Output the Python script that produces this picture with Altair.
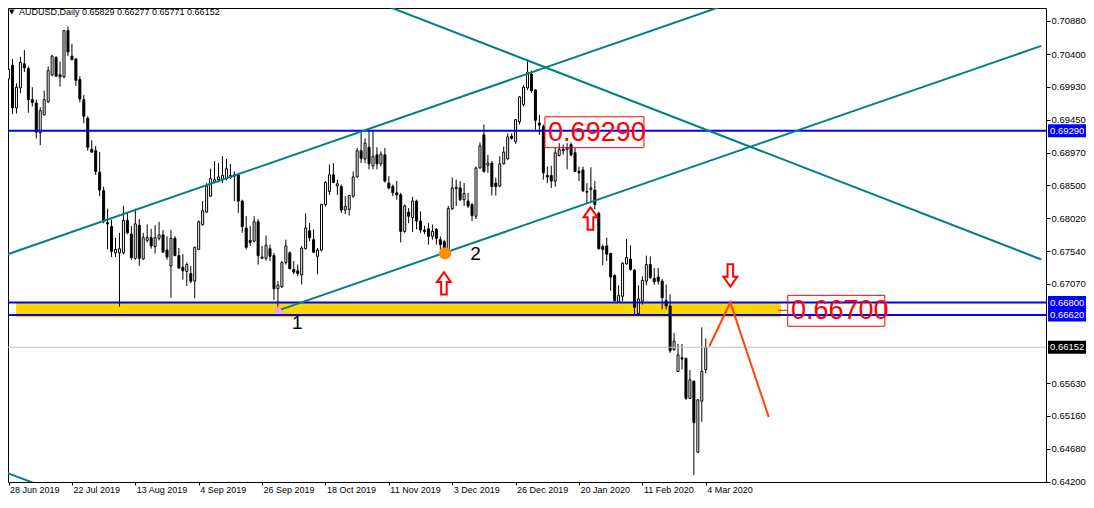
import altair as alt
import pandas as pd

# ---------------- data ----------------
bar_open = [0.7004, 0.7024, 0.6962, 0.6991, 0.7026, 0.7019, 0.6974, 0.6969, 0.6926, 0.6952,
            0.6971, 0.7010, 0.7035, 0.7010, 0.7007, 0.7074, 0.7037, 0.7033, 0.7003, 0.6974,
            0.6947, 0.6902, 0.6900, 0.6869, 0.6842, 0.6796, 0.6790, 0.6752, 0.6752, 0.6752,
            0.6799, 0.6779, 0.6744, 0.6792, 0.6743, 0.6770, 0.6774, 0.6761, 0.6773, 0.6778,
            0.6756, 0.6733, 0.6773, 0.6748, 0.6731, 0.6725, 0.6722, 0.6711, 0.6757, 0.6793,
            0.6811, 0.6834, 0.6855, 0.6858, 0.6858, 0.6860, 0.6861, 0.6863, 0.6865, 0.6827,
            0.6788, 0.6770, 0.6769, 0.6797, 0.6744, 0.6744, 0.6758, 0.6748, 0.6700, 0.6703,
            0.6738, 0.6752, 0.6728, 0.6726, 0.6720, 0.6758, 0.6784, 0.6771, 0.6747, 0.6756,
            0.6822, 0.6841, 0.6865, 0.6849, 0.6848, 0.6814, 0.6815, 0.6834, 0.6862, 0.6900,
            0.6888, 0.6905, 0.6878, 0.6894, 0.6881, 0.6894, 0.6853, 0.6848, 0.6839, 0.6836,
            0.6783, 0.6811, 0.6803, 0.6827, 0.6798, 0.6785, 0.6787, 0.6776, 0.6786, 0.6771,
            0.6768, 0.6753, 0.6816, 0.6845, 0.6846, 0.6829, 0.6827, 0.6822, 0.6805, 0.6875,
            0.6923, 0.6879, 0.6882, 0.6853, 0.6849, 0.6881, 0.6888, 0.6921, 0.6913, 0.6942,
            0.6967, 0.6991, 0.7011, 0.6988, 0.6940, 0.6935, 0.6864, 0.6864, 0.6856, 0.6893,
            0.6902, 0.6902, 0.6909, 0.6897, 0.6870, 0.6872, 0.6841, 0.6844, 0.6843, 0.6809,
            0.6761, 0.6762, 0.6751, 0.6719, 0.6681, 0.6689, 0.6736, 0.6743, 0.6727, 0.6664,
            0.6682, 0.6711, 0.6735, 0.6715, 0.6717, 0.6711, 0.6683, 0.6675, 0.6612, 0.6580,
            0.6600, 0.6599, 0.6541, 0.6566, 0.6463, 0.6537, 0.65829]
bar_high = [0.7021, 0.7033, 0.6998, 0.7036, 0.7046, 0.7022, 0.6992, 0.6974, 0.6963, 0.6987,
            0.7022, 0.7039, 0.7037, 0.7029, 0.7075, 0.7080, 0.7055, 0.7034, 0.7008, 0.6981,
            0.6950, 0.6915, 0.6907, 0.6898, 0.6848, 0.6816, 0.6800, 0.6774, 0.6781, 0.6820,
            0.6810, 0.6791, 0.6816, 0.6801, 0.6781, 0.6793, 0.6787, 0.6792, 0.6797, 0.6785,
            0.6776, 0.6785, 0.6776, 0.6759, 0.6750, 0.6738, 0.6733, 0.6761, 0.6799, 0.6827,
            0.6853, 0.6874, 0.6885, 0.6882, 0.6892, 0.6888, 0.6881, 0.6870, 0.6868, 0.6829,
            0.6805, 0.6791, 0.6805, 0.6801, 0.6762, 0.6777, 0.6764, 0.6752, 0.6711, 0.6740,
            0.6771, 0.6754, 0.6740, 0.6735, 0.6762, 0.6809, 0.6795, 0.6786, 0.6759, 0.6823,
            0.6856, 0.6880, 0.6882, 0.6858, 0.6851, 0.6834, 0.6836, 0.6870, 0.6904, 0.6929,
            0.6918, 0.6928, 0.6928, 0.6905, 0.6899, 0.6904, 0.6863, 0.6851, 0.6856, 0.6839,
            0.6822, 0.6817, 0.6833, 0.6829, 0.6812, 0.6791, 0.6795, 0.6793, 0.6788, 0.6776,
            0.6771, 0.6820, 0.6861, 0.6858, 0.6856, 0.6853, 0.6839, 0.6824, 0.6877, 0.6912,
            0.6938, 0.6894, 0.6885, 0.6861, 0.6892, 0.6906, 0.6925, 0.6925, 0.6946, 0.6979,
            0.6995, 0.7030, 0.7016, 0.6989, 0.6952, 0.6938, 0.6877, 0.6878, 0.6904, 0.6911,
            0.6909, 0.6911, 0.6912, 0.6904, 0.6877, 0.6877, 0.6853, 0.6876, 0.6856, 0.6812,
            0.6764, 0.6774, 0.6752, 0.6721, 0.6705, 0.6738, 0.6772, 0.6763, 0.6728, 0.6705,
            0.6718, 0.6748, 0.6747, 0.6730, 0.6730, 0.6714, 0.6706, 0.6692, 0.6636, 0.6620,
            0.6620, 0.6600, 0.6582, 0.6567, 0.6540, 0.6644, 0.66277]
bar_low = [0.6996, 0.6953, 0.6954, 0.6983, 0.7014, 0.6955, 0.6964, 0.6918, 0.6908, 0.6951,
           0.6969, 0.7008, 0.7007, 0.6993, 0.7005, 0.7037, 0.7031, 0.6994, 0.6970, 0.6940,
           0.6900, 0.6897, 0.6865, 0.6834, 0.6795, 0.6757, 0.6746, 0.6746, 0.6674, 0.6750,
           0.6779, 0.6742, 0.6742, 0.6733, 0.6742, 0.6767, 0.6758, 0.6751, 0.6770, 0.6752,
           0.6742, 0.6687, 0.6747, 0.6729, 0.6713, 0.6704, 0.6708, 0.6686, 0.6756, 0.6791,
           0.6810, 0.6833, 0.6853, 0.6854, 0.6853, 0.6857, 0.6859, 0.6827, 0.6810, 0.6781,
           0.6757, 0.6762, 0.6767, 0.6735, 0.6743, 0.6741, 0.6740, 0.6684, 0.6671, 0.6701,
           0.6735, 0.6728, 0.6721, 0.6718, 0.6706, 0.6757, 0.6769, 0.6752, 0.6721, 0.6754,
           0.6819, 0.6836, 0.6853, 0.6836, 0.6810, 0.6808, 0.6806, 0.6832, 0.6861, 0.6882,
           0.6882, 0.6873, 0.6873, 0.6873, 0.6877, 0.6854, 0.6844, 0.6834, 0.6829, 0.6767,
           0.6781, 0.6795, 0.6782, 0.6786, 0.6781, 0.6779, 0.6764, 0.6771, 0.6764, 0.6757,
           0.6750, 0.6752, 0.6814, 0.6820, 0.6827, 0.6820, 0.6817, 0.6798, 0.6801, 0.6874,
           0.6868, 0.6868, 0.6835, 0.6835, 0.6847, 0.6880, 0.6887, 0.6916, 0.6910, 0.6938,
           0.6964, 0.6988, 0.6984, 0.6928, 0.6923, 0.6858, 0.6853, 0.6846, 0.6848, 0.6892,
           0.6894, 0.6873, 0.6892, 0.6869, 0.6856, 0.6840, 0.6824, 0.6827, 0.6815, 0.6757,
           0.6734, 0.6740, 0.6697, 0.6681, 0.6680, 0.6682, 0.6735, 0.6726, 0.6661, 0.6662,
           0.6677, 0.6705, 0.6714, 0.6706, 0.6706, 0.6670, 0.6670, 0.6607, 0.6610, 0.6579,
           0.6583, 0.6539, 0.6540, 0.6430, 0.6462, 0.6507, 0.65771]
bar_close = [0.7018, 0.6962, 0.6992, 0.7028, 0.7020, 0.6974, 0.6970, 0.6927, 0.6958, 0.6974,
             0.7016, 0.7037, 0.7008, 0.7007, 0.7074, 0.7043, 0.7032, 0.7002, 0.6975, 0.6950,
             0.6905, 0.6898, 0.6870, 0.6843, 0.6798, 0.6794, 0.6754, 0.6757, 0.6758, 0.6799,
             0.6781, 0.6745, 0.6794, 0.6744, 0.6774, 0.6774, 0.6762, 0.6774, 0.6778, 0.6753,
             0.6746, 0.6773, 0.6748, 0.6730, 0.6726, 0.6735, 0.6711, 0.6760, 0.6797, 0.6813,
             0.6849, 0.6860, 0.6858, 0.6862, 0.6864, 0.6874, 0.6864, 0.6865, 0.6827, 0.6790,
             0.6760, 0.6767, 0.6797, 0.6748, 0.6746, 0.6763, 0.6747, 0.6700, 0.6705, 0.6738,
             0.6762, 0.6729, 0.6724, 0.6722, 0.6759, 0.6788, 0.6774, 0.6753, 0.6756, 0.6822,
             0.6854, 0.6865, 0.6854, 0.6852, 0.6814, 0.6819, 0.6835, 0.6862, 0.6900, 0.6889,
             0.6911, 0.6881, 0.6892, 0.6881, 0.6895, 0.6856, 0.6846, 0.6839, 0.6836, 0.6783,
             0.6820, 0.6805, 0.6827, 0.6798, 0.6785, 0.6783, 0.6776, 0.6783, 0.6773, 0.6764,
             0.6753, 0.6816, 0.6846, 0.6847, 0.6829, 0.6838, 0.6820, 0.6806, 0.6875, 0.6907,
             0.6870, 0.6882, 0.6848, 0.6848, 0.6881, 0.6898, 0.6920, 0.6918, 0.6945, 0.6978,
             0.6992, 0.7014, 0.6987, 0.6944, 0.6937, 0.6868, 0.6862, 0.6856, 0.6897, 0.6902,
             0.6900, 0.6904, 0.6894, 0.6870, 0.6868, 0.6842, 0.6840, 0.6846, 0.6822, 0.6758,
             0.6757, 0.6750, 0.6717, 0.6683, 0.6690, 0.6737, 0.6745, 0.6728, 0.6673, 0.6685,
             0.6712, 0.6735, 0.6716, 0.6710, 0.6711, 0.6687, 0.6675, 0.6610, 0.6624, 0.6604,
             0.6598, 0.6541, 0.6568, 0.6506, 0.6539, 0.6580, 0.66152]

date_labels = ["28 Jun 2019", "22 Jul 2019", "13 Aug 2019", "4 Sep 2019", "26 Sep 2019",
               "18 Oct 2019", "11 Nov 2019", "3 Dec 2019", "26 Dec 2019", "20 Jan 2020",
               "11 Feb 2020", "4 Mar 2020"]
date_bars = [0, 16, 32, 48, 64, 80, 96, 112, 128, 144, 160, 176]
price_ticks = [0.70880, 0.70400, 0.69930, 0.69450, 0.68970, 0.68500, 0.68020, 0.67540,
               0.67070, 0.65630, 0.65160, 0.64680, 0.64200]

blue_levels = [0.69290, 0.66800, 0.66620]
last_price = [0.66152]

zone_bars = [1.9, 195.0]
zone_prices = [0.66795, 0.66585]

trend_names = ["up1", "up1", "up2", "up2", "dn1", "dn1", "dn2", "dn2"]
trend_bars = [-0.33, 182.4, 67.4, 260.7, 92.9, 260.7, -0.33, 14.0]
trend_prices = [0.67497, 0.71140, 0.66672, 0.70519, 0.71155, 0.67424, 0.64330, 0.64020]

forecast_bars = [176.9, 182.2, 191.9]
forecast_prices = [0.66166, 0.66800, 0.65140]

up_arrow_bars = [109.9, 146.9]
up_arrow_prices = [0.67077, 0.68017]
down_arrow_bars = [182.2]
down_arrow_prices = [0.67193]

dot_bar = [110.2]
dot_price = [0.67511]
pink_bar = [68.2]
pink_price = [0.66700]

point_labels = ["1", "2"]
point_label_bars = [72.9, 117.9]
point_label_prices = [0.66499, 0.67497]

box_texts = ["0.69290", "0.66700"]
box_text_bars = [136.2, 197.5]
box_text_prices = [0.69261, 0.66672]
box_bar_lo = [135.4, 196.7]
box_bar_hi = [160.4, 221.2]
box_price_hi = [0.69492, 0.66904]
box_price_lo = [0.69044, 0.66456]

header_text = "AUDUSD,Daily  0.65829 0.66277 0.65771 0.66152"

# ---------------- tables ----------------
candles = pd.DataFrame({"bar": list(range(len(bar_open))), "open": bar_open,
                        "high": bar_high, "low": bar_low, "close": bar_close})
candles["dir"] = ["up" if c >= o else "down" for o, c in zip(bar_open, bar_close)]

FONT = "Liberation Sans"
xs = alt.Scale(domain=[1.125, 260.625], nice=False, zero=False)
ys = alt.Scale(domain=[0.64199, 0.71068], nice=False, zero=False)
label_expr = "[" + ",".join("'%s'" % d for d in date_labels) + "][round(datum.value / 16)]"
xaxis = alt.Axis(values=date_bars, labelExpr=label_expr, title=None, grid=False, domain=False,
                 tickSize=3, tickColor="black", labelAlign="left", labelBaseline="top",
                 labelPadding=0, labelOffset=1, labelFont=FONT, labelFontSize=9,
                 labelColor="black", labelOverlap=False, labelFlush=False, labelBound=False)
yaxis = alt.Axis(orient="right", values=price_ticks, format=".5f", title=None, grid=False,
                 domain=False, tickSize=4, tickColor="black", labelPadding=1, labelFont=FONT,
                 labelFontSize=9.5, labelColor="black", labelOverlap=False, labelFlush=False,
                 labelBaseline="middle")


def X(f):
    return alt.X(f, type="quantitative", scale=xs, axis=xaxis)


def Y(f):
    return alt.Y(f, type="quantitative", scale=ys, axis=yaxis)


zone = alt.Chart(pd.DataFrame({"b1": [zone_bars[0]], "b2": [zone_bars[1]],
                               "p1": [zone_prices[0]], "p2": [zone_prices[1]]})).mark_rect(
    color="#FFD700", clip=True).encode(x=X("b1"), x2="b2", y=Y("p1"), y2="p2")

wicks = alt.Chart(candles).mark_rule(color="black", strokeWidth=1).encode(
    x=X("bar"), y=Y("low"), y2="high")
bodies = alt.Chart(candles).mark_bar(width=2, stroke="black", strokeWidth=1).encode(
    x=X("bar"), y=Y("open"), y2="close",
    fill=alt.Fill("dir:N", scale=alt.Scale(domain=["up", "down"], range=["white", "black"]),
                  legend=None))

trend_df = pd.DataFrame({"name": trend_names, "bar": trend_bars, "price": trend_prices})
trends = alt.Chart(trend_df).mark_line(color="#008080", strokeWidth=2, clip=True).encode(
    x=X("bar"), y=Y("price"), detail="name:N")

levels = alt.Chart(pd.DataFrame({"price": blue_levels})).mark_rule(
    color="#0000FF", strokeWidth=2).encode(y=Y("price"))
last_line = alt.Chart(pd.DataFrame({"price": last_price})).mark_rule(
    color="#C0C0C0", strokeWidth=1).encode(y=Y("price"))

forecast = alt.Chart(pd.DataFrame({"bar": forecast_bars, "price": forecast_prices,
                                   "k": list(range(3))})).mark_line(
    color="#FF4500", strokeWidth=2).encode(x=X("bar"), y=Y("price"), order="k:Q")

UP = "M0,-1L0.62,-0.12L0.25,-0.12L0.25,1L-0.25,1L-0.25,-0.12L-0.62,-0.12Z"
DOWN = "M0,1L0.62,0.12L0.25,0.12L0.25,-1L-0.25,-1L-0.25,0.12L-0.62,0.12Z"
up_arrows = alt.Chart(pd.DataFrame({"bar": up_arrow_bars, "price": up_arrow_prices})).mark_point(
    shape=UP, size=500, filled=True, fill="white", stroke="#FF0000", strokeWidth=2,
    opacity=1).encode(x=X("bar"), y=Y("price"))
down_arrows = alt.Chart(pd.DataFrame({"bar": down_arrow_bars, "price": down_arrow_prices})).mark_point(
    shape=DOWN, size=500, filled=True, fill="white", stroke="#FF0000", strokeWidth=2,
    opacity=1).encode(x=X("bar"), y=Y("price"))

dot = alt.Chart(pd.DataFrame({"bar": dot_bar, "price": dot_price})).mark_circle(
    color="#FF8C00", size=150, opacity=1).encode(x=X("bar"), y=Y("price"))
pink = alt.Chart(pd.DataFrame({"bar": pink_bar, "price": pink_price})).mark_point(
    shape="triangle-up", size=90, filled=True, color="#FF99FF", opacity=1).encode(
    x=X("bar"), y=Y("price"))

num_labels = alt.Chart(pd.DataFrame({"t": point_labels, "bar": point_label_bars,
                                     "price": point_label_prices})).mark_text(
    font=FONT, fontSize=19, color="black", align="center", baseline="middle").encode(
    x=X("bar"), y=Y("price"), text="t:N")

box_df = pd.DataFrame({"t": box_texts, "tb": box_text_bars, "tp": box_text_prices,
                       "b1": box_bar_lo, "b2": box_bar_hi, "p1": box_price_hi, "p2": box_price_lo})
boxes = alt.Chart(box_df).mark_rect(fill="white", fillOpacity=0, stroke="#FF0000",
                                     strokeWidth=1).encode(x=X("b1"), x2="b2", y=Y("p1"), y2="p2")
box_text = alt.Chart(box_df).mark_text(font=FONT, fontSize=27, color="#FF0000", align="left",
                                       baseline="middle").encode(x=X("tb"), y=Y("tp"), text="t:N")

red_dash = alt.Chart(pd.DataFrame({"b1": [194.2], "b2": [196.7], "p": [0.66687]})).mark_rule(
    color="#FF0000", strokeWidth=1).encode(x=X("b1"), x2="b2", y=Y("p"))

# price tags on the right axis
tag_df = pd.DataFrame({"price": blue_levels + last_price,
                       "t": ["%.5f" % v for v in blue_levels + last_price],
                       "kind": ["blue"] * len(blue_levels) + ["last"]})
tags = alt.Chart(tag_df).mark_rule(strokeWidth=13, strokeCap="butt").encode(
    x=alt.value(1040), x2=alt.value(1078), y=Y("price"),
    color=alt.Color("kind:N", scale=alt.Scale(domain=["blue", "last"], range=["#0000FF", "#000000"]),
                    legend=None))
tag_text = alt.Chart(tag_df).mark_text(font=FONT, fontSize=9.5, color="white", align="left",
                                       baseline="middle").encode(
    x=alt.value(1042), y=Y("price"), text="t:N")

header = alt.Chart(pd.DataFrame({"t": [header_text]})).mark_text(
    font=FONT, fontSize=9, color="black", align="left", baseline="middle").encode(
    x=alt.value(11), y=alt.value(4), text="t:N")
header_arrow = alt.Chart(pd.DataFrame({"t": ["▼"]})).mark_text(
    font="DejaVu Sans", fontSize=7, color="black", align="left", baseline="middle").encode(
    x=alt.value(1), y=alt.value(4), text="t:N")

chart = alt.layer(
    zone, wicks, bodies, levels, last_line, trends, forecast, up_arrows, down_arrows,
    dot, pink, num_labels, boxes, box_text, red_dash, tags, tag_text, header, header_arrow
).properties(
    width=1038, height=474,
    autosize=alt.AutoSizeParams(type="none"),
    padding={"left": 0, "top": 0, "right": 40, "bottom": 14},
    background="white",
).configure_view(stroke="black", strokeWidth=1)

chart.save("out.html", embed_options={"renderer": "svg", "actions": False})
